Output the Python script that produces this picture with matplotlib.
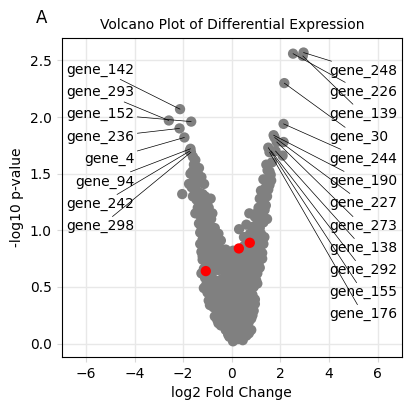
import matplotlib
matplotlib.use("Agg")
import matplotlib.pyplot as plt

# background genes (log2 fold change, -log10 p-value)
log2fc = [
    # bottom of the V
    0.05, 0.25, 0.45, -0.10, 0.60, 0.15, 0.35, -0.25, 0.55, 0.80, 0.00, 0.25,
    -0.55, -0.30, -0.05, 0.20, 0.45, 0.70, -0.70, -0.40, -0.15, 0.10, 0.35, 0.60, 0.85, -0.60, -0.20, 0.25, 0.75,
    -0.90, -0.65, -0.35, -0.05, 0.20, 0.50, 0.80, 0.95, -0.80, -0.50, -0.20, 0.10, 0.40, 0.70, -1.00,
    -1.15, -0.85, -0.60, -0.30, 0.00, 0.30, 0.60, 0.90, 1.05, -1.00, -0.70, -0.40, -0.10, 0.20, 0.45, 0.75,
    -1.25, -0.80, -0.55, -0.25, 0.05, 0.35, 0.65, 0.95, 1.15, -1.05, -0.70, -0.40, -0.10, 0.20, 0.50, 0.80, 1.10,
    -1.20, -0.90, -0.60, -0.30, 0.00, 0.30, 0.60, 0.90, 1.25, -1.10, -0.80, -0.50, -0.25, 0.05, 0.50, 0.95, 1.20,
    # filling in the bottom
    -0.15, 0.30, 0.70,
    -0.45, 0.05, 0.55,
    -0.60, -0.25, 0.30, 0.80,
    -0.45, 0.00, 0.45, 0.90,
    -0.75, -0.20, 0.35, 0.65,
    -0.95, -0.50, -0.15, 0.30, 0.65, 0.95,
    -0.65, -0.35, -0.05, 0.25, 0.55, 0.85,
    -1.05, -0.75, -0.45, -0.15, 0.15, 0.45, 0.75, 1.00,
    -1.10, -0.85, -0.25, 0.05, 0.60, 0.90,
    -1.15, -0.95, -0.70, -0.40, -0.10, 0.20, 0.50, 0.80, 1.05,
    -1.20, -0.85, -0.55, -0.25, 0.05, 0.35, 0.65, 0.95, 1.25,
    -1.25, -1.00, -0.70, -0.40, -0.10, 0.15, 0.45, 0.75, 1.05,
    -1.30, -0.95, -0.65, 0.65, 0.85, 1.30,
    # left arm
    -1.35, -1.16, -1.25, -0.95, -0.74, -0.45, -1.05, -0.85, -0.60, -1.20, -0.70,
    -1.45, -1.25, -0.87, -1.40, -1.15, -0.95, -0.80, -1.30, -1.05, -1.50,
    -1.76, -1.55, -1.35, -1.14, -1.48, -2.04, -1.30, -1.10, -1.60,
    -1.56, -1.45, -1.62, -1.40,
    -1.30, -0.90, -0.55, -1.15, -0.85, -1.35, -1.00, -1.20,
    -1.45, -1.65, -1.25, -1.50, -1.70, -1.35, -1.50, -1.60,
    # right arm
    1.06, 0.86, 1.34, 0.30, 0.50, 0.95, 0.75, 1.15, 0.65, 1.10,
    1.27, 1.40, 1.10, 1.06, 0.72, 1.20, 1.45, 1.33,
    1.47, 1.40, 1.27, 1.55, 1.35, 1.20,
    1.55, 1.60, 1.50, 1.47, 2.13, 2.09,
    0.90, 1.20, 0.60, 0.95, 1.30, 1.15, 1.35,
    1.45, 1.30, 1.50, 1.62, 1.42, 1.65,
]
neglog10p = [
    0.02, 0.04, 0.03, 0.06, 0.07, 0.09, 0.11, 0.12, 0.13, 0.12, 0.14, 0.15,
    0.18, 0.17, 0.19, 0.18, 0.20, 0.19, 0.24, 0.25, 0.23, 0.26, 0.24, 0.27, 0.25, 0.30, 0.29, 0.30, 0.31,
    0.34, 0.36, 0.33, 0.35, 0.37, 0.34, 0.36, 0.39, 0.41, 0.42, 0.40, 0.43, 0.41, 0.44, 0.45,
    0.49, 0.48, 0.50, 0.47, 0.49, 0.51, 0.48, 0.50, 0.53, 0.55, 0.56, 0.57, 0.55, 0.58, 0.56, 0.59,
    0.62, 0.63, 0.65, 0.61, 0.64, 0.62, 0.66, 0.63, 0.67, 0.70, 0.71, 0.72, 0.69, 0.72, 0.70, 0.73, 0.71,
    0.77, 0.78, 0.76, 0.79, 0.77, 0.78, 0.76, 0.79, 0.80, 0.85, 0.86, 0.84, 0.83, 0.82, 0.86, 0.84, 0.87,
    0.08, 0.07, 0.09,
    0.16, 0.15, 0.17,
    0.21, 0.22, 0.21, 0.22,
    0.28, 0.27, 0.28, 0.29,
    0.32, 0.31, 0.32, 0.33,
    0.38, 0.39, 0.38, 0.39, 0.38, 0.35,
    0.44, 0.45, 0.44, 0.46, 0.44, 0.43,
    0.52, 0.53, 0.52, 0.53, 0.52, 0.53, 0.54, 0.56,
    0.58, 0.59, 0.58, 0.60, 0.59, 0.58,
    0.66, 0.67, 0.66, 0.67, 0.66, 0.67, 0.68, 0.66, 0.62,
    0.74, 0.75, 0.74, 0.75, 0.74, 0.75, 0.76, 0.74, 0.75,
    0.81, 0.82, 0.81, 0.82, 0.80, 0.80, 0.81, 0.82, 0.81,
    0.88, 0.89, 0.90, 0.88, 0.87, 0.88,
    1.06, 1.00, 1.03, 1.05, 0.94, 0.91, 0.96, 0.98, 0.93, 0.92, 1.02,
    1.27, 1.25, 1.28, 1.20, 1.18, 1.20, 1.15, 1.13, 1.12, 1.15,
    1.41, 1.45, 1.42, 1.41, 1.36, 1.32, 1.33, 1.30, 1.30,
    1.58, 1.55, 1.52, 1.50,
    0.98, 0.92, 0.97, 1.08, 1.10, 1.18, 1.25, 1.32,
    1.30, 1.38, 1.47, 1.43, 1.50, 1.55, 1.62, 1.65,
    1.09, 1.03, 0.94, 1.01, 0.94, 0.98, 0.97, 1.02, 0.92, 0.93,
    1.24, 1.22, 1.20, 1.16, 1.15, 1.12, 1.10, 1.24,
    1.41, 1.38, 1.35, 1.40, 1.30, 1.35,
    1.52, 1.49, 1.46, 1.53, 1.78, 1.66,
    0.90, 0.97, 1.05, 1.12, 1.07, 1.28, 1.18,
    1.30, 1.45, 1.36, 1.44, 1.58, 1.60,
]

# highlighted genes
red_fc = [-1.07, 0.29, 0.74]
red_p = [0.64, 0.84, 0.89]

# labelled genes
left_genes = ["gene_142", "gene_293", "gene_152", "gene_236", "gene_4", "gene_94", "gene_242", "gene_298"]
left_fc = [-2.13, -2.59, -1.67, -2.15, -1.95, -1.70, -1.73, -1.68]
left_p = [2.07, 1.97, 1.96, 1.90, 1.82, 1.72, 1.70, 1.69]
right_genes = ["gene_248", "gene_226", "gene_139", "gene_30", "gene_244", "gene_190",
               "gene_227", "gene_273", "gene_138", "gene_292", "gene_155", "gene_176"]
right_fc = [2.95, 2.52, 2.92, 2.16, 2.13, 1.72, 1.76, 1.85, 1.80, 1.62, 1.50, 1.55]
right_p = [2.57, 2.56, 2.54, 2.30, 1.94, 1.84, 1.82, 1.78, 1.70, 1.70, 1.73, 1.69]
left_text_y = [2.42, 2.22, 2.03, 1.82, 1.63, 1.43, 1.23, 1.035]
right_text_y = [2.407, 2.22, 2.027, 1.823, 1.628, 1.434, 1.239, 1.035, 0.841, 0.646, 0.451, 0.257]

fig = plt.figure(figsize=(4.11, 4.11), dpi=100)
ax = fig.add_axes([0.150, 0.131, 0.828, 0.777])

grey = "#808080"
ax.scatter(log2fc, neglog10p, s=55, c=grey, edgecolors="none", zorder=2)
ax.scatter(left_fc + right_fc, left_p + right_p, s=55, c=grey, edgecolors="none", zorder=2)
ax.scatter(red_fc, red_p, s=55, c="red", edgecolors="none", zorder=3)

for name, x, y, ty in zip(left_genes, left_fc, left_p, left_text_y):
    ax.annotate(name, xy=(x, y), xytext=(-4.0, ty), ha="right", va="center", fontsize=10,
                arrowprops=dict(arrowstyle="-", color="black", lw=0.5, shrinkA=0, shrinkB=0))
for name, x, y, ty in zip(right_genes, right_fc, right_p, right_text_y):
    ax.annotate(name, xy=(x, y), xytext=(4.0, ty), ha="left", va="center", fontsize=10,
                arrowprops=dict(arrowstyle="-", color="black", lw=0.5, shrinkA=0, shrinkB=0))

ax.set_xlim(-7, 7)
ax.set_ylim(-0.12, 2.70)
ax.set_xticks([-6, -4, -2, 0, 2, 4, 6])
ax.set_yticks([0.0, 0.5, 1.0, 1.5, 2.0, 2.5])
ax.grid(True, color="#e8e8e8", linewidth=1.0, zorder=0)
ax.set_axisbelow(True)
ax.tick_params(colors="#d8d8d8", labelcolor="black", labelsize=10)

ax.set_xlabel("log2 Fold Change", fontsize=10)
ax.set_ylabel("-log10 p-value", fontsize=10)
ax.set_title("Volcano Plot of Differential Expression", fontsize=10)
fig.text(0.102, 0.955, "A", fontsize=12, ha="center", va="center")

fig.savefig("out.png", dpi=100)
